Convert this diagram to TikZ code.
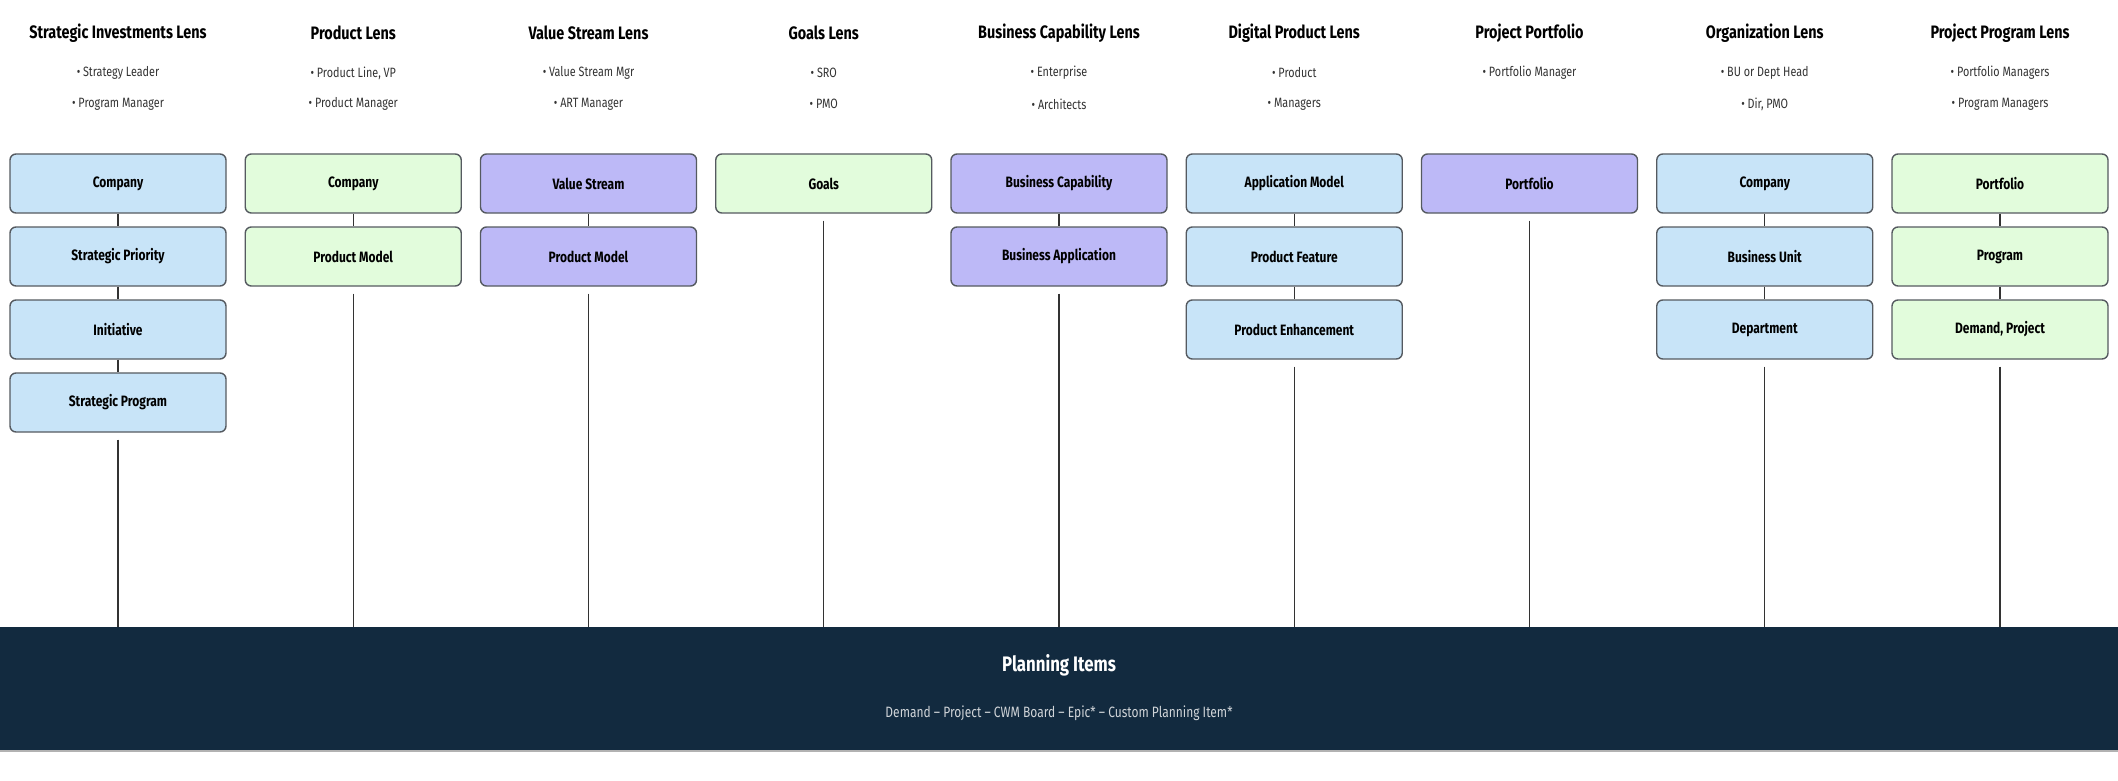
\documentclass[tikz,border=0pt]{standalone}
\usepackage{fontspec}
\setmainfont{Fira Sans}[FakeStretch=0.8]
\definecolor{cblue}{HTML}{C8E4F8}
\definecolor{cgreen}{HTML}{E2FCDC}
\definecolor{cpurple}{HTML}{BDB9F7}
\definecolor{cdark}{HTML}{122A3F}
\definecolor{cedge}{HTML}{555A60}
\begin{document}
\begin{tikzpicture}[x=1pt,y=-1pt,
  box/.style={draw=cedge,line width=1.4pt,rounded corners=6pt,minimum width=216pt,minimum height=59pt,inner sep=0pt,font=\fontsize{15}{18}\selectfont\bfseries},
  hdr/.style={font=\fontsize{18}{21}\selectfont\bfseries,inner sep=0pt},
  bul/.style={font=\fontsize{13.5}{16}\selectfont,text=black!80,inner sep=0pt},
  lnk/.style={draw=black!80,line width=1.1pt}]
\useasboundingbox (0,0) rectangle (2118,781);
\fill[cdark] (0,627) rectangle (2118,750);
\draw[black!30,line width=1.5pt] (0,751) -- (2118,751);
\node[font=\fontsize{21}{24}\selectfont\bfseries,text=white] (pt) at (1059,665) {Planning Items};
\node[font=\fontsize{15}{18}\selectfont,text=white!80!cdark] (ps) at (1059,713) {Demand – Project – CWM Board – Epic* – Custom Planning Item*};
% columns
\def\cx#1{118+235.25*#1}
\foreach \i/\h/\ba/\bb in {
 0/Strategic Investments Lens/Strategy Leader/Program Manager,
 1/Product Lens/{Product Line, VP}/Product Manager,
 2/Value Stream Lens/Value Stream Mgr/ART Manager,
 3/Goals Lens/SRO/PMO,
 4/Business Capability Lens/Enterprise/Architects,
 5/Digital Product Lens/Product/Managers,
 7/Organization Lens/BU or Dept Head/{Dir, PMO},
 8/Project Program Lens/Portfolio Managers/Program Managers}{
  \node[hdr] (h\i) at ({\cx{\i}},33) {\h};
  \node[bul] (ba\i) at ({\cx{\i}},73) {• \ba};
  \node[bul] (bb\i) at ({\cx{\i}},104) {• \bb};
}
\node[hdr] (h6) at ({\cx{6}},33) {Project Portfolio};
\node[bul] (ba6) at ({\cx{6}},73) {• Portfolio Manager};
% boxes
\foreach \i/\j/\c/\t in {
 0/0/cblue/Company, 0/1/cblue/Strategic Priority, 0/2/cblue/Initiative, 0/3/cblue/Strategic Program,
 1/0/cgreen/Company, 1/1/cgreen/Product Model,
 2/0/cpurple/Value Stream, 2/1/cpurple/Product Model,
 3/0/cgreen/Goals,
 4/0/cpurple/Business Capability, 4/1/cpurple/Business Application,
 5/0/cblue/Application Model, 5/1/cblue/Product Feature, 5/2/cblue/Product Enhancement,
 6/0/cpurple/Portfolio,
 7/0/cblue/Company, 7/1/cblue/Business Unit, 7/2/cblue/Department,
 8/0/cgreen/Portfolio, 8/1/cgreen/Program, 8/2/cgreen/{Demand, Project}}{
  \node[box,fill=\c] (b\i-\j) at ({\cx{\i}},{183.5+73*\j}) {\t};
}
% intra links
\foreach \a/\b in {0-0/0-1,0-1/0-2,0-2/0-3,1-0/1-1,2-0/2-1,4-0/4-1,5-0/5-1,5-1/5-2,7-0/7-1,7-1/7-2,8-0/8-1,8-1/8-2}
  \draw[lnk] (b\a.south) -- (b\b.north);
% down links
\foreach \i/\j in {0/3,1/1,2/1,3/0,4/1,5/2,6/0,7/2,8/2}{
  \coordinate (e\i) at ({\cx{\i}},627);
  \draw[lnk] ([yshift=-7pt]b\i-\j.south) -- (e\i);
}
\end{tikzpicture}
\end{document}
